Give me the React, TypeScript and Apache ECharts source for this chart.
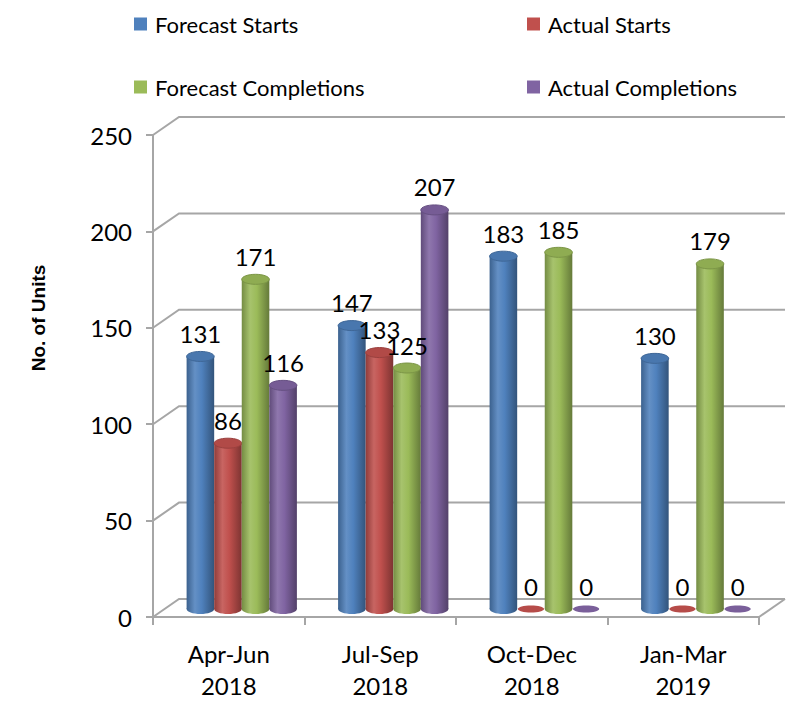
import React, { useEffect, useRef } from "react";
import * as echarts from "echarts";

const categories = ["Apr-Jun\n2018", "Jul-Sep\n2018", "Oct-Dec\n2018", "Jan-Mar\n2019"];
const seriesNames = ["Forecast Starts", "Actual Starts", "Forecast Completions", "Actual Completions"];
const forecastStarts = [131, 147, 183, 130];
const actualStarts = [86, 133, 0, 0];
const forecastCompletions = [171, 125, 185, 179];
const actualCompletions = [116, 207, 0, 0];
const yTicks = [0, 50, 100, 150, 200, 250];
const yAxisName = "No. of Units";

const seriesValues = [forecastStarts, actualStarts, forecastCompletions, actualCompletions];
const colors = ["#4F81BD", "#C0504D", "#9BBB59", "#8064A2"];

const FONT = "Lato, 'Liberation Sans', sans-serif";
const DEPTH_X = 26;
const DEPTH_Y = -18;
const GRID_COLOR = "#A6A6A6";

function mix(hex: string, target: number, t: number): string {
  const n = parseInt(hex.slice(1), 16);
  const r = (n >> 16) & 255, g = (n >> 8) & 255, b = n & 255;
  const f = (c: number) => Math.round(c + (target - c) * t);
  return `rgb(${f(r)},${f(g)},${f(b)})`;
}

function cylinderRender(i: number) {
  const color = colors[i];
  return (params: any, api: any) => {
    const cat = api.value(0);
    const v = api.value(1);
    const base = api.coord([cat, 0]);
    const top = api.coord([cat, v]);
    const catW = api.size([1, 0])[0];
    const bw = catW * 0.182;
    const cx = base[0] + (i - 1.5) * bw + DEPTH_X / 2;
    const yb = base[1] + DEPTH_Y / 2 + 1;
    const yt = top[1] + DEPTH_Y / 2 + 1;
    const rx = bw / 2;
    const ry = 5;
    const grad = {
      type: "linear", x: 0, y: 0, x2: 1, y2: 0,
      colorStops: [
        { offset: 0, color: mix(color, 0, 0.25) },
        { offset: 0.3, color: mix(color, 255, 0.12) },
        { offset: 0.55, color: color },
        { offset: 1, color: mix(color, 0, 0.35) },
      ],
    };
    const children: any[] = [];
    if (v > 0) {
      children.push({
        type: "ellipse",
        shape: { cx, cy: yb, rx, ry },
        style: { fill: grad },
      });
      children.push({
        type: "rect",
        shape: { x: cx - rx, y: yt, width: bw, height: yb - yt },
        style: { fill: grad },
      });
      children.push({
        type: "ellipse",
        shape: { cx, cy: yt, rx, ry },
        style: { fill: mix(color, 0, 0.08), stroke: mix(color, 0, 0.2), lineWidth: 1 },
      });
    } else {
      children.push({
        type: "ellipse",
        shape: { cx, cy: yb, rx: rx * 0.95, ry: 3.5 },
        style: { fill: mix(color, 0, 0.05) },
      });
    }
    children.push({
      type: "text",
      z2: 100,
      style: {
        x: cx,
        y: yt - 23,
        text: String(v),
        fill: "#000",
        fontSize: 24,
        fontFamily: FONT,
        align: "center",
        verticalAlign: "middle",
      },
    });
    return { type: "group", children };
  };
}

function frameRender(params: any, api: any) {
  const v = api.value(1);
  const cs = params.coordSys;
  const y = api.coord([0, v])[1];
  const x0 = cs.x;
  const x1 = cs.x + cs.width;
  const children: any[] = [
    {
      type: "polyline",
      shape: { points: [[x0, y], [x0 + DEPTH_X, y + DEPTH_Y], [x1 + DEPTH_X, y + DEPTH_Y]] },
      style: { stroke: GRID_COLOR, lineWidth: 2, fill: "none" },
    },
  ];
  if (v === 0) {
    children.push({
      type: "line",
      shape: { x1: x1, y1: y, x2: x1 + DEPTH_X, y2: y + DEPTH_Y },
      style: { stroke: GRID_COLOR, lineWidth: 2 },
    });
  }
  return { type: "group", children };
}

export default function App() {
  const ref = useRef<HTMLDivElement>(null);
  useEffect(() => {
    if (!ref.current) return;
    const chart = echarts.init(ref.current, undefined, { renderer: "svg" });
    const legendPos = [
      { left: 134, top: 13 },
      { left: 527, top: 13 },
      { left: 134, top: 76 },
      { left: 527, top: 76 },
    ];
    chart.setOption({
      animation: false,
      backgroundColor: "#ffffff",
      legend: seriesNames.map((name, i) => ({
        data: [name],
        left: legendPos[i].left,
        top: legendPos[i].top,
        padding: 0,
        icon: "rect",
        itemWidth: 13,
        itemHeight: 13,
        textStyle: { fontSize: 22, fontFamily: FONT, color: "#000", padding: [0, 0, 0, 3] },
        selectedMode: false,
      })),
      grid: { left: 153, top: 135, width: 606, height: 487, containLabel: false },
      xAxis: {
        type: "category",
        data: categories,
        axisLine: { show: true, lineStyle: { color: GRID_COLOR, width: 2 } },
        axisTick: { show: true, length: 8, lineStyle: { color: GRID_COLOR, width: 2 } },
        axisLabel: { fontSize: 24, fontFamily: FONT, color: "#000", lineHeight: 32, margin: 20 },
        splitLine: { show: false },
      },
      yAxis: {
        type: "value",
        min: 0,
        max: 250,
        interval: 50,
        axisLine: { show: true, lineStyle: { color: GRID_COLOR, width: 2 } },
        axisTick: { show: true, length: 7, lineStyle: { color: GRID_COLOR, width: 2 } },
        axisLabel: { fontSize: 24, fontFamily: FONT, color: "#000", margin: 21 },
        splitLine: { show: false },
      },
      graphic: [
        {
          type: "text",
          x: 38,
          y: 318,
          rotation: Math.PI / 2,
          style: {
            text: yAxisName,
            fill: "#000",
            fontSize: 19,
            fontWeight: "bold",
            fontFamily: "'Liberation Sans', Arial, sans-serif",
            align: "center",
            verticalAlign: "middle",
          },
        },
      ],
      series: [
        {
          type: "custom",
          name: "frame",
          silent: true,
          z: 1,
          clip: false,
          renderItem: frameRender,
          data: yTicks.map((t) => [0, t]),
        },
        ...seriesNames.map((name, i) => ({
          type: "custom",
          name,
          z: 3,
          clip: false,
          itemStyle: { color: colors[i] },
          renderItem: cylinderRender(i),
          data: seriesValues[i].map((v, k) => [k, v]),
        })),
      ],
    });
    return () => chart.dispose();
  }, []);
  return <div ref={ref} style={{ position: "absolute", left: 0, top: 0, width: 798, height: 701 }} />;
}
